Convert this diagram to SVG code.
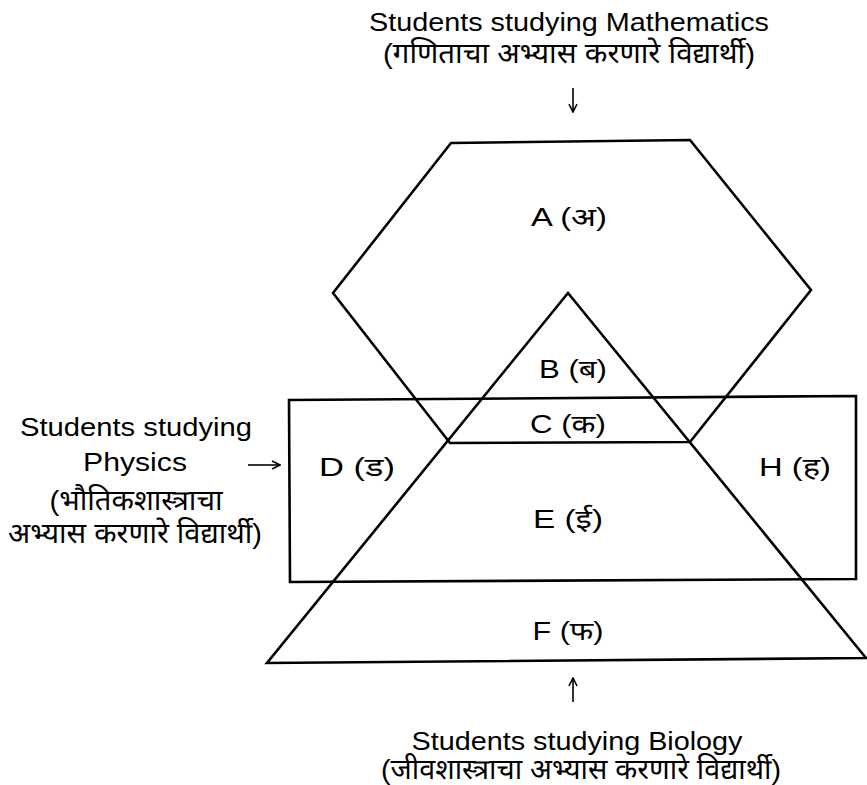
<svg xmlns="http://www.w3.org/2000/svg" width="867" height="785" viewBox="0 0 867 785">
<style>
  .shape { fill: none; stroke: #000; stroke-width: 2.6; stroke-linejoin: miter; }
  text { font-family: "Liberation Sans", "Noto Sans Devanagari", "Noto Sans", Arial, sans-serif; font-size: 26px; fill: #000; }
  .dev { font-size: 28px; }
  .lbl { text-anchor: middle; }
  .arr { stroke: #000; stroke-width: 1.6; fill: none; }
</style>
<defs>
  <marker id="ah" viewBox="0 0 10 10" refX="9" refY="5" markerWidth="10" markerHeight="10" markerUnits="userSpaceOnUse" orient="auto">
    <path d="M1,1 L9,5 L1,9" fill="none" stroke="#000" stroke-width="1.6"/>
  </marker>
</defs>
<rect width="867" height="785" fill="#fff"/>

<g id="mathematics">
  <polygon class="shape" points="451,143 690,140 811,290 690,442 450,443 333,293"/>
</g>
<g id="biology">
  <polygon class="shape" points="568,293 866,658 267,663"/>
</g>
<g id="physics">
  <polygon class="shape" points="289,400 856,396 856,579 290,582"/>
</g>

<g id="regions">
  <text class="lbl" x="569" y="226" textLength="76" lengthAdjust="spacingAndGlyphs">A (अ)</text>
  <text class="lbl" x="573" y="378" textLength="68" lengthAdjust="spacingAndGlyphs">B (ब)</text>
  <text class="lbl" x="568" y="433" textLength="76" lengthAdjust="spacingAndGlyphs">C (क)</text>
  <text class="lbl" x="357" y="476" textLength="76" lengthAdjust="spacingAndGlyphs">D (ड)</text>
  <text class="lbl" x="568" y="528" textLength="70" lengthAdjust="spacingAndGlyphs">E (ई)</text>
  <text class="lbl" x="795" y="476" textLength="72" lengthAdjust="spacingAndGlyphs">H (ह)</text>
  <text class="lbl" x="568" y="640" textLength="71" lengthAdjust="spacingAndGlyphs">F (फ)</text>
</g>

<g id="label-mathematics">
  <text class="lbl" x="569" y="31" textLength="400" lengthAdjust="spacingAndGlyphs">Students studying Mathematics</text>
  <text class="lbl dev" x="569" y="63" textLength="372" lengthAdjust="spacingAndGlyphs">(गणिताचा अभ्यास करणारे विद्यार्थी)</text>
</g>
<g id="label-physics">
  <text class="lbl" x="136" y="436" textLength="232" lengthAdjust="spacingAndGlyphs">Students studying</text>
  <text class="lbl" x="135" y="471" textLength="104" lengthAdjust="spacingAndGlyphs">Physics</text>
  <text class="lbl dev" x="136" y="510" textLength="173" lengthAdjust="spacingAndGlyphs">(भौतिकशास्त्राचा</text>
  <text class="lbl dev" x="135" y="543" textLength="254" lengthAdjust="spacingAndGlyphs">अभ्यास करणारे विद्यार्थी)</text>
</g>
<g id="label-biology">
  <text class="lbl" x="577" y="750" textLength="331" lengthAdjust="spacingAndGlyphs">Students studying Biology</text>
  <text class="lbl dev" x="581" y="779" textLength="400" lengthAdjust="spacingAndGlyphs">(जीवशास्त्राचा अभ्यास करणारे विद्यार्थी)</text>
</g>

<g id="connectors">
  <line class="arr" x1="573" y1="88" x2="573" y2="112" marker-end="url(#ah)"/>
  <line class="arr" x1="248" y1="465" x2="280" y2="465" marker-end="url(#ah)"/>
  <line class="arr" x1="573" y1="702" x2="573" y2="678" marker-end="url(#ah)"/>
</g>
</svg>
